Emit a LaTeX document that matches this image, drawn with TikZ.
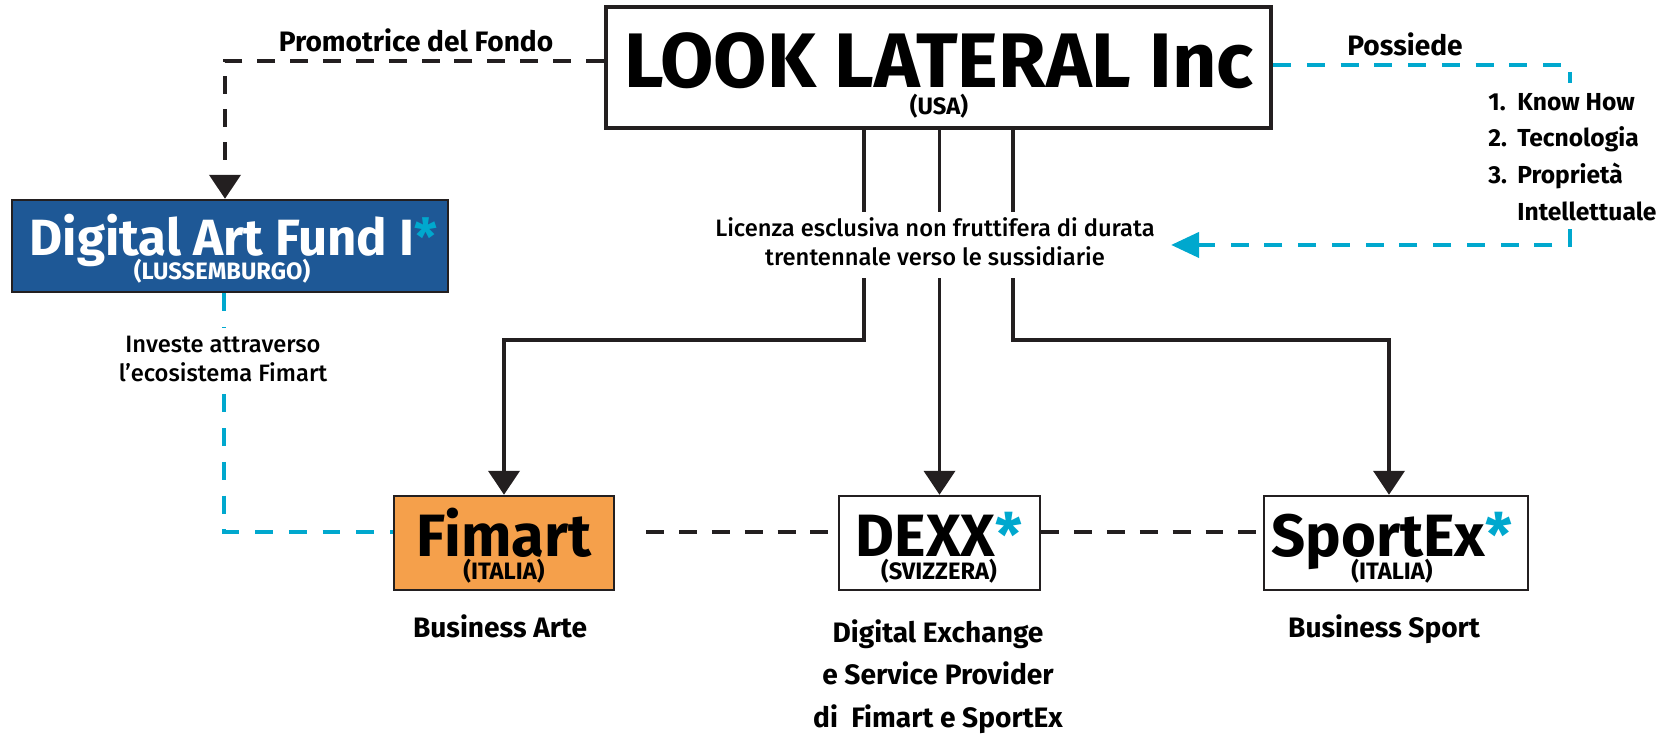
\documentclass[tikz,border=0pt]{standalone}
\usepackage{fontspec}
\setmainfont{Fira Sans}
\newfontfamily\medfont{Fira Sans Medium}
\usetikzlibrary{arrows.meta}
\definecolor{fundblue}{HTML}{1E5896}
\definecolor{fimorange}{HTML}{F5A04B}
\definecolor{licblue}{HTML}{00A8CE}
\definecolor{inkline}{HTML}{231F20}
\newcommand{\stella}{\textcolor{licblue}{*}}
% Name over country, baselines #3 apart.
\newcommand{\duename}[3]{{\renewcommand{\arraystretch}{0}%
    \begin{tabular}[t]{@{}c@{}}\smash{#1}\\[#3]\smash{\fontsize{13.5}{16}\selectfont #2}\end{tabular}}}

\begin{document}
\begin{tikzpicture}[x=0.02cm, y=-0.02cm,
        company/.style={draw=inkline, line width=1.4pt, inner sep=0pt},
        bigname/.style={inner sep=0pt, anchor=base, font=\bfseries\fontsize{34}{40}\selectfont},
        bizlabel/.style={inner sep=0pt, anchor=base, font=\bfseries\fontsize{16}{24.4}\selectfont},
        gapnote/.style={fill=white, anchor=base, inner xsep=0.32cm, inner ysep=0.06cm, font=\medfont\fontsize{13.5}{17}\selectfont},
        solidarrow/.style={draw=inkline, line width=2.2pt, -{Triangle[length=0.48cm, width=0.62cm]}},
        blackdash/.style={draw=inkline, line width=2.4pt, dash pattern=on 10.2pt off 8.5pt},
        cyandash/.style={draw=licblue, line width=2.4pt, dash pattern=on 10.2pt off 9pt}]
        \useasboundingbox (0,0) rectangle (1659,734);
        % Draw the company boxes.
        \node[company, line width=2.6pt, minimum width=13.3cm, minimum height=2.42cm] (look) at (938.5,67.5) {};
        \node[company, fill=fundblue, minimum width=8.72cm, minimum height=1.84cm] (daf) at (230,246) {};
        \node[company, fill=fimorange, minimum width=4.4cm, minimum height=1.88cm] (fimart) at (504,543) {};
        \node[company, minimum width=4.02cm, minimum height=1.88cm] (dexx) at (939.5,543) {};
        \node[company, minimum width=5.28cm, minimum height=1.88cm] (sportex) at (1396,543) {};
        % Names inside the boxes.
        \node[bigname, font=\bfseries\fontsize{44}{50}\selectfont] (lookname) at (939,87) {\duename{LOOK LATERAL Inc}{(USA)}{0.56cm}};
        \node[bigname, text=white, font=\bfseries\fontsize{29}{34}\selectfont] (dafname) at (222,255) {\duename{Digital Art Fund I\rlap{\stella}}{(LUSSEMBURGO)}{0.5cm}};
        \node[bigname] (fimartname) at (504,556) {\duename{Fimart}{(ITALIA)}{0.46cm}};
        \node[bigname] (dexxname) at (939,556) {\duename{DEXX\stella}{(SVIZZERA)}{0.46cm}};
        \node[bigname] (sportexname) at (1392,556) {\duename{SportEx\stella}{(ITALIA)}{0.46cm}};
        % Licence lines to the subsidiaries.
        \draw[solidarrow] ([xshift=-1.49cm]look.south) -- ++(0,210) -| (fimart.north);
        \draw[solidarrow] (look.south -| dexx.north) -- (dexx.north);
        \draw[solidarrow] ([xshift=1.49cm]look.south) -- ++(0,210) -| ([xshift=-0.14cm]sportex.north);
        \node[gapnote] (licenza) at (935,236) {\begin{tabular}[t]{@{}c@{}}Licenza esclusiva non fruttifera di durata\\ trentennale verso le sussidiarie\end{tabular}};
        % What the parent owns.
        \coordinate (possA) at (1570,83);
        \coordinate (possB) at (1570,229);
        \draw[cyandash] ([yshift=0.05cm]look.east) -| (possA);
        \draw[cyandash, -{Triangle[length=0.56cm, width=0.5cm]}] (possB) |- (licenza.east);
        \node[bizlabel] (possiede) at (1405,55) {Possiede};
        \node[inner sep=0pt, anchor=base west, font=\bfseries\fontsize{14}{21}\selectfont] (beni) at (1488,110) {\begin{tabular}[t]{@{}p{0.58cm}@{}l@{}}1. & Know How\\ 2. & Tecnologia\\ 3. & Proprietà\\ & Intellettuale\end{tabular}};
        % The fund.
        \draw[blackdash, -{Triangle[length=0.48cm, width=0.62cm]}] ([yshift=0.13cm]look.west) -| ([xshift=-0.1cm]daf.north);
        \node[bizlabel] (promo) at (416,51) {Promotrice del Fondo};
        \draw[cyandash] ([xshift=-0.12cm]daf.south) |- ([yshift=0.22cm]fimart.west);
        \node[gapnote, inner xsep=0.1cm] (investe) at (223,352) {\begin{tabular}[t]{@{}c@{}}Investe attraverso\\ l’ecosistema Fimart\end{tabular}};
        % Links between the subsidiaries.
        \draw[blackdash, shorten <=0.62cm] ([yshift=0.22cm]fimart.east) -- ([yshift=0.22cm]dexx.west);
        \draw[blackdash] ([yshift=0.22cm]dexx.east) -- ([yshift=0.22cm]sportex.west);
        % Roles below the boxes.
        \node[bizlabel] (fimartrole) at (500,637) {Business Arte};
        \node[bizlabel] (sportexrole) at (1384,637) {Business Sport};
        \node[bizlabel] (dexxrole) at (938,642) {\begin{tabular}[t]{@{}c@{}}Digital Exchange\\ e Service Provider\\ di\ \ Fimart e SportEx\end{tabular}};
    \end{tikzpicture}
\end{document}
